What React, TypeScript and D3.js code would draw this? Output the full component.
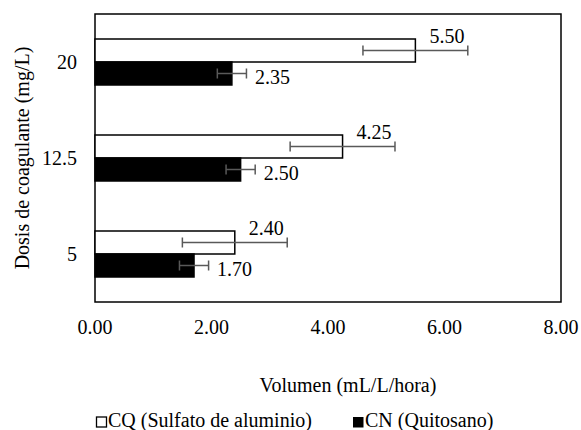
import * as d3 from "d3";

// dose categories (top to bottom as drawn)
const doses = ["20", "12.5", "5"];
const seriesKeys = ["CQ", "CN"];
const seriesNames = ["CQ (Sulfato de aluminio)", "CN (Quitosano)"];
const cqValues = [5.5, 4.25, 2.4];
const cnValues = [2.35, 2.5, 1.7];
const cqErrors = [0.9, 0.9, 0.9];
const cnErrors = [0.25, 0.25, 0.25];
const xTicks = [0, 2, 4, 6, 8];

const W = 581;
const H = 430;
const margin = { top: 14, right: 20, bottom: 128, left: 95 };
const font = "Liberation Serif, Times New Roman, DejaVu Serif, serif";

export default function App() {
  const x = d3.scaleLinear().domain([0, 8]).range([margin.left, W - margin.right]);
  const y = d3.scaleBand().domain(doses).range([margin.top, H - margin.bottom]);
  const inner = d3
    .scaleBand()
    .domain(seriesKeys)
    .range([0, y.bandwidth()])
    .paddingInner(0)
    .paddingOuter(1.087);

  const rows = doses.map((d, i) => ({
    dose: d,
    bars: [
      { key: "CQ", v: cqValues[i], err: cqErrors[i], fill: "#ffffff", dy: -7.5, dx: 14 },
      { key: "CN", v: cnValues[i], err: cnErrors[i], fill: "#000000", dy: 11, dx: 23 },
    ],
  }));

  const plotTop = margin.top;
  const plotBottom = H - margin.bottom;
  const cap = 5;

  return (
    <svg
      width={W}
      height={H}
      style={{ position: "absolute", left: 0, top: 0, background: "#fff", fontFamily: font, fontSize: 20 }}
    >
      {/* plot frame */}
      <rect
        x={x(0)}
        y={plotTop}
        width={x(8) - x(0)}
        height={plotBottom - plotTop}
        fill="none"
        stroke="#000"
        strokeWidth={1.5}
      />

      {rows.map((r) => (
        <g key={r.dose}>
          {r.bars.map((b) => {
            const by = (y(r.dose) as number) + (inner(b.key) as number);
            const bh = inner.bandwidth();
            const cy = by + bh / 2;
            return (
              <g key={b.key}>
                <rect
                  x={x(0)}
                  y={by}
                  width={x(b.v) - x(0)}
                  height={bh}
                  fill={b.fill}
                  stroke="#000"
                  strokeWidth={1.5}
                />
                <g stroke="#595959" strokeWidth={1.5}>
                  <line x1={x(b.v - b.err)} x2={x(b.v + b.err)} y1={cy} y2={cy} />
                  <line x1={x(b.v - b.err)} x2={x(b.v - b.err)} y1={cy - cap} y2={cy + cap} />
                  <line x1={x(b.v + b.err)} x2={x(b.v + b.err)} y1={cy - cap} y2={cy + cap} />
                </g>
                <text x={x(b.v) + b.dx} y={cy + b.dy} fill="#000">
                  {b.v.toFixed(2)}
                </text>
              </g>
            );
          })}
          <text
            x={77}
            y={(y(r.dose) as number) + y.bandwidth() / 2 + 7}
            textAnchor="end"
            fill="#000"
          >
            {r.dose}
          </text>
        </g>
      ))}

      {/* x tick labels */}
      {xTicks.map((t) => (
        <text key={t} x={x(t)} y={334} textAnchor="middle" fill="#000">
          {t.toFixed(2)}
        </text>
      ))}

      {/* axis titles */}
      <text x={348} y={392} textAnchor="middle" fill="#000">
        Volumen (mL/L/hora)
      </text>
      <text
        transform={`translate(29, ${(plotTop + plotBottom) / 2}) rotate(-90)`}
        textAnchor="middle"
        fill="#000"
      >
        Dosis de coagulante (mg/L)
      </text>

      {/* legend */}
      <g>
        <rect x={96.5} y={417} width={10} height={10} fill="#fff" stroke="#000" strokeWidth={1.3} />
        <text x={108} y={427} fill="#000">
          {seriesNames[0]}
        </text>
        <rect x={353} y={417} width={10.5} height={10.5} fill="#000" />
        <text x={365} y={427} fill="#000">
          {seriesNames[1]}
        </text>
      </g>
    </svg>
  );
}
